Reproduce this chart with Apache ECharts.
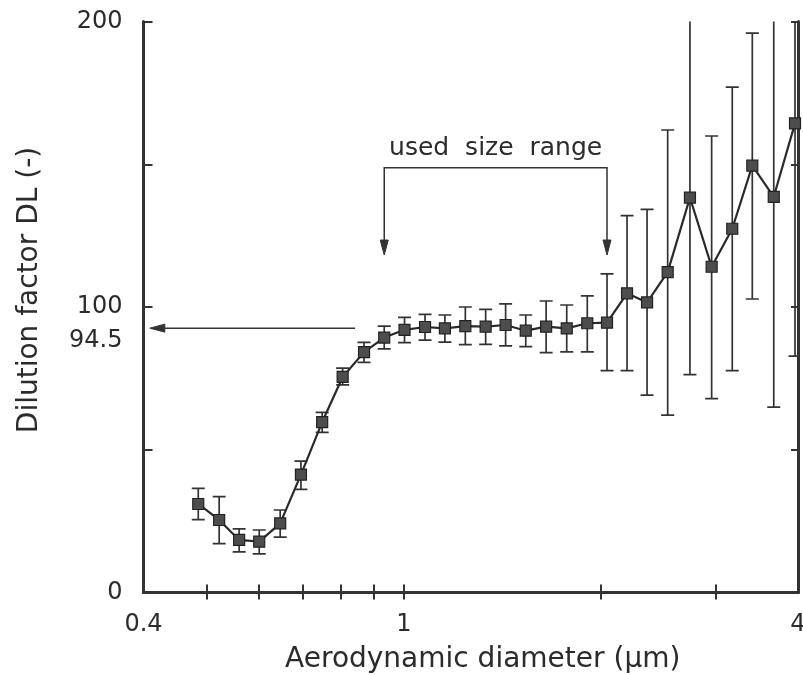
<!DOCTYPE html>
<html><head><meta charset="utf-8">
<script src="https://cdn.jsdelivr.net/npm/echarts@6/dist/echarts.min.js"></script>
<style>html,body{margin:0;padding:0;background:#fff}#c{width:803px;height:675px}</style>
</head><body><div id="c"></div>
<script>
// Aerodynamic diameter (µm) of each channel
const diameter = [0.485, 0.522, 0.560, 0.601, 0.647, 0.696, 0.750, 0.806, 0.869, 0.933,
  1.002, 1.077, 1.155, 1.241, 1.333, 1.430, 1.535, 1.649, 1.773, 1.906,
  2.043, 2.192, 2.352, 2.529, 2.735, 2.952, 3.174, 3.406, 3.673, 3.958];
// Dilution factor DL
const dilution = [31.0, 25.4, 18.4, 17.8, 24.2, 41.3, 59.7, 75.5, 84.2, 89.3,
  92.0, 93.0, 92.5, 93.3, 93.1, 93.7, 91.7, 93.1, 92.5, 94.3,
  94.5, 104.8, 101.6, 112.2, 138.3, 114.1, 127.4, 149.5, 138.6, 164.3];
const errLow = [25.5, 17.1, 14.2, 13.5, 19.4, 36.1, 56.1, 72.7, 80.6, 85.3,
  87.5, 88.4, 87.7, 86.8, 86.9, 86.4, 86.1, 84.0, 84.3, 84.3,
  77.7, 77.7, 69.1, 62.1, 76.3, 67.9, 77.7, 102.8, 64.9, 82.8];
const errHigh = [36.5, 33.6, 22.3, 21.9, 28.9, 46.0, 63.1, 78.6, 87.6, 93.3,
  96.4, 97.4, 97.2, 100.0, 99.2, 101.1, 97.2, 102.1, 100.7, 103.9,
  111.6, 132.0, 134.2, 162.0, 215, 159.9, 177.0, 195.9, 215, 215];

const xLabelValues = [0.4, 1, 4];
const xTickValues = [0.5, 0.6, 0.7, 0.8, 0.9, 1, 2, 3];
const yLabelValues = [0, 100, 200];
const usedRange = [0.933, 2.043];
const referenceLevel = 94.5;

const FONT = 'DejaVu Sans';
const INK = '#2b2b2b';

const chart = echarts.init(document.getElementById('c'), null, {renderer: 'canvas'});

const points = diameter.map((d, i) => [d, dilution[i]]);
const errData = diameter.map((d, i) => [d, errLow[i], errHigh[i]]);

function renderErr(params, api) {
  const x = api.value(0), lo = api.value(1), hi = api.value(2);
  const a = api.coord([x, lo]), b = api.coord([x, hi]);
  const hw = 6.5;
  const style = {stroke: '#333', lineWidth: 1.7};
  return {type: 'group', children: [
    {type: 'line', shape: {x1: a[0], y1: a[1], x2: b[0], y2: b[1]}, style},
    {type: 'line', shape: {x1: a[0] - hw, y1: a[1], x2: a[0] + hw, y2: a[1]}, style},
    {type: 'line', shape: {x1: b[0] - hw, y1: b[1], x2: b[0] + hw, y2: b[1]}, style}
  ]};
}

function renderAnno(params, api) {
  if (params.dataIndex !== 0) return;
  const style = {stroke: '#333', lineWidth: 1.5, fill: null};
  const fillStyle = {fill: '#333', stroke: '#333', lineWidth: 1};
  const bracketY = 148.8, tipY = 118.2;
  const L = api.coord([usedRange[0], bracketY]);
  const R = api.coord([usedRange[1], bracketY]);
  const Lt = api.coord([usedRange[0], tipY]);
  const Rt = api.coord([usedRange[1], tipY]);
  const txt = api.coord([Math.sqrt(usedRange[0] * usedRange[1]), 155.5]);
  const arrA = api.coord([0.842, 92.6]);
  const arrB = api.coord([0.409, 92.6]);
  const ref = api.coord([0.4, referenceLevel]);
  const ah = 15, aw = 4;
  return {type: 'group', children: [
    {type: 'polyline', shape: {points: [[Lt[0], Lt[1] - ah], [L[0], L[1]], [R[0], R[1]], [Rt[0], Rt[1] - ah]]}, style},
    {type: 'polygon', shape: {points: [[Lt[0], Lt[1]], [Lt[0] - aw, Lt[1] - ah], [Lt[0] + aw, Lt[1] - ah]]}, style: fillStyle},
    {type: 'polygon', shape: {points: [[Rt[0], Rt[1]], [Rt[0] - aw, Rt[1] - ah], [Rt[0] + aw, Rt[1] - ah]]}, style: fillStyle},
    {type: 'line', shape: {x1: arrA[0], y1: arrA[1], x2: arrB[0] + ah, y2: arrB[1]}, style},
    {type: 'polygon', shape: {points: [[arrB[0], arrB[1]], [arrB[0] + ah, arrB[1] - aw], [arrB[0] + ah, arrB[1] + aw]]}, style: fillStyle},
    {type: 'text', x: txt[0], y: txt[1], style: {text: 'used  size  range', font: '25px "' + FONT + '"', fill: INK, align: 'center', verticalAlign: 'middle'}},
    {type: 'text', x: ref[0] - 21, y: ref[1] + 18, style: {text: String(referenceLevel), font: '24px "' + FONT + '"', fill: INK, align: 'right', verticalAlign: 'middle'}}
  ]};
}

const axisLineStyle = {color: '#333', width: 3};

chart.setOption({
  backgroundColor: '#fff',
  animation: false,
  grid: {left: 143.5, right: 5, top: 21.5, bottom: 82.5, containLabel: false, outerBoundsMode: 'none'},
  xAxis: [{
    type: 'log', logBase: 10, min: 0.4, max: 4, position: 'bottom',
    name: 'Aerodynamic diameter (µm)', nameLocation: 'middle', nameGap: 53,
    nameTextStyle: {fontFamily: FONT, fontSize: 28, color: INK, padding: [0, 0, 0, 24]},
    axisLine: {show: true, lineStyle: axisLineStyle},
    axisTick: {show: true, inside: true, length: 8, customValues: xTickValues, lineStyle: {color: '#333', width: 2}},
    minorTick: {show: false},
    axisLabel: {show: true, customValues: xLabelValues, margin: 20, fontFamily: FONT, fontSize: 24, color: INK,
      formatter: v => String(v)},
    splitLine: {show: false}
  }, {
    type: 'log', logBase: 10, min: 0.4, max: 4, position: 'top',
    axisLine: {show: true, lineStyle: axisLineStyle},
    axisTick: {show: true, inside: true, length: 7, customValues: xTickValues, lineStyle: {color: '#333', width: 2}},
    axisLabel: {show: false},
    splitLine: {show: false}
  }],
  yAxis: [{
    type: 'value', min: 0, max: 200, interval: 50, position: 'left',
    name: 'Dilution factor DL (-)', nameLocation: 'middle', nameGap: 100,
    nameTextStyle: {fontFamily: FONT, fontSize: 28, color: INK, padding: [0, 0, 0, 34]},
    axisLine: {show: true, lineStyle: axisLineStyle},
    axisTick: {show: true, inside: true, length: 9, lineStyle: {color: '#333', width: 2}},
    axisLabel: {show: true, margin: 21, fontFamily: FONT, fontSize: 24, color: INK,
      formatter: v => (yLabelValues.indexOf(v) >= 0 ? String(v) : '')},
    splitLine: {show: false}
  }, {
    type: 'value', min: 0, max: 200, interval: 50, position: 'right',
    axisLine: {show: true, lineStyle: axisLineStyle},
    axisTick: {show: true, inside: true, length: 7, lineStyle: {color: '#333', width: 2}},
    axisLabel: {show: false},
    splitLine: {show: false}
  }],
  series: [{
    type: 'custom', name: 'error', renderItem: renderErr, data: errData,
    encode: {x: 0, y: [1, 2]}, clip: true, z: 2
  }, {
    type: 'line', name: 'DL', data: points,
    symbol: 'rect', symbolSize: 11, showSymbol: true,
    lineStyle: {color: '#2a2a2a', width: 2.2},
    itemStyle: {color: '#4d4d4d', borderColor: '#222', borderWidth: 1.2},
    clip: true, z: 3
  }, {
    type: 'custom', name: 'annotation', renderItem: renderAnno,
    data: [[usedRange[0], referenceLevel]], encode: {x: 0, y: 1}, clip: false, z: 4, silent: true
  }]
});
</script>
</body></html>
